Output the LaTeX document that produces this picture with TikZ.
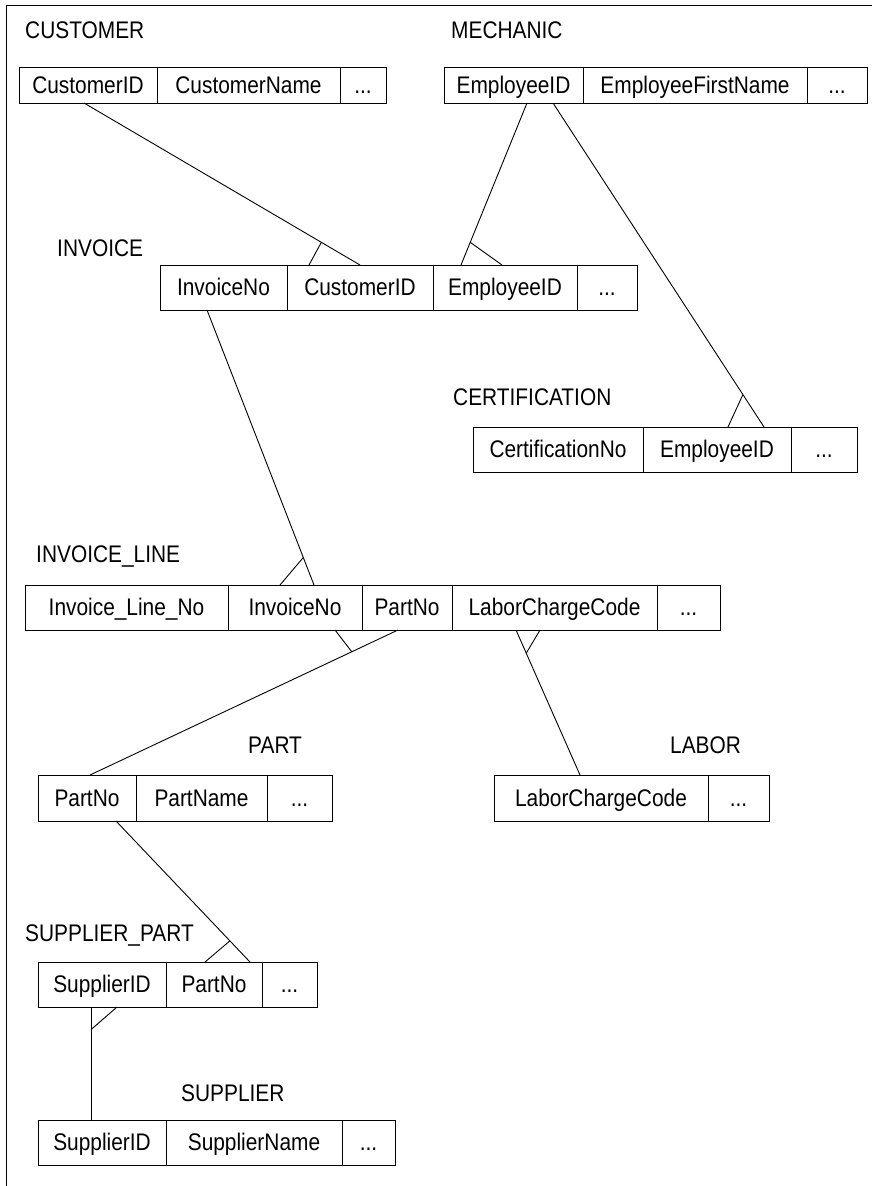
\documentclass[tikz,border=0pt]{standalone}
\usepackage{fontspec}
\setmainfont{Liberation Sans}[FakeStretch=0.87]
\usepackage{tikz}
\usetikzlibrary{positioning,calc}
\newcommand{\erfont}{\fontsize{24}{28}\selectfont}
\newcommand{\more}{.{}.{}.}

\tikzset{
  cell/.style={draw, line width=1pt, inner sep=0pt, outer sep=0pt, minimum height=#1,
    text height=17pt, text depth=1pt},
  cell/.default=45pt,
  tname/.style={anchor=west, inner sep=0pt},
  link/.style={line width=0.9pt}
}

\begin{document}
\begin{tikzpicture}[x=1pt, y=-1pt, font=\erfont]
\useasboundingbox (0,0) rectangle (872,1186);
\draw[line width=1pt] (872,5) -- (6,5) -- (6,1186);

% customer and mechanic
\node[tname] (custlbl) at (25,30) {CUSTOMER};
\node[cell=36pt, minimum width=138pt, anchor=north west] (cid) at (19,67) {CustomerID};
\node[cell=36pt, minimum width=183pt, right=0pt of cid] (cname) {CustomerName};
\node[cell=36pt, minimum width=46pt, right=0pt of cname] (cdots) {\more};

\node[tname] (mechlbl) at (451,30) {MECHANIC};
\node[cell=36pt, minimum width=139pt, anchor=north west] (eid) at (444,67) {EmployeeID};
\node[cell=36pt, minimum width=224pt, right=0pt of eid] (efname) {EmployeeFirstName};
\node[cell=36pt, minimum width=60pt, right=0pt of efname] (edots) {\more};

% invoice
\node[tname] (invlbl) at (57,248) {INVOICE};
\node[cell, minimum width=127pt, anchor=north west] (ino) at (160,265) {InvoiceNo};
\node[cell, minimum width=146pt, right=0pt of ino] (icid) {CustomerID};
\node[cell, minimum width=144pt, right=0pt of icid] (ieid) {EmployeeID};
\node[cell, minimum width=60pt, right=0pt of ieid] (idots) {\more};

% certification
\node[tname] (certlbl) at (453,397) {CERTIFICATION};
\node[cell, minimum width=170pt, anchor=north west] (crno) at (473,427) {CertificationNo};
\node[cell, minimum width=148pt, right=0pt of crno] (ceid) {EmployeeID};
\node[cell, minimum width=66pt, right=0pt of ceid] (crdots) {\more};

% invoice line
\node[tname] (linelbl) at (36,556) {INVOICE\_LINE};
\node[cell, minimum width=203pt, anchor=north west] (lno) at (25,585) {Invoice\_Line\_No};
\node[cell, minimum width=134pt, right=0pt of lno] (lino) {InvoiceNo};
\node[cell, minimum width=90pt, right=0pt of lino] (lpno) {PartNo};
\node[cell, minimum width=205pt, right=0pt of lpno] (llcc) {LaborChargeCode};
\node[cell, minimum width=63pt, right=0pt of llcc] (ldots) {\more};

% part and labor
\node[tname] (partlbl) at (248,745) {PART};
\node[cell=46pt, minimum width=98pt, anchor=north west] (pno) at (38,775) {PartNo};
\node[cell=46pt, minimum width=131pt, right=0pt of pno] (pname) {PartName};
\node[cell=46pt, minimum width=65pt, right=0pt of pname] (pdots) {\more};

\node[tname] (laborlbl) at (670,745) {LABOR};
\node[cell=46pt, minimum width=214pt, anchor=north west] (lbcc) at (494,775) {LaborChargeCode};
\node[cell=46pt, minimum width=61pt, right=0pt of lbcc] (lbdots) {\more};

% supplier part and supplier
\node[tname] (splbl) at (25,935) {SUPPLIER\_PART};
\node[cell, minimum width=128pt, anchor=north west] (spsid) at (38,962) {SupplierID};
\node[cell, minimum width=96pt, right=0pt of spsid] (sppno) {PartNo};
\node[cell, minimum width=55pt, right=0pt of sppno] (spdots) {\more};

\node[tname] (suplbl) at (181,1093) {SUPPLIER};
\node[cell, minimum width=128pt, anchor=north west] (ssid) at (38,1120) {SupplierID};
\node[cell, minimum width=176pt, right=0pt of ssid] (sname) {SupplierName};
\node[cell, minimum width=53pt, right=0pt of sname] (sdots) {\more};

% relationships, crow's foot on the many side
\draw[link] ([xshift=-4pt]cid.south) -- coordinate[pos=0.86] (f1) (icid.north);
\draw[link] (f1) -- ([xshift=-51pt]icid.north);

\draw[link] ([xshift=13.5pt]eid.south) -- coordinate[pos=0.86] (f2) ([xshift=-44pt]ieid.north);
\draw[link] (f2) -- ([xshift=-3pt]ieid.north);

\draw[link] ([xshift=39.5pt]eid.south) -- coordinate[pos=0.9] (f3) ([xshift=47pt]ceid.north);
\draw[link] (f3) -- ([xshift=11pt]ceid.north);

\draw[link] ([xshift=-16.5pt]ino.south) -- coordinate[pos=0.9] (f4) ([xshift=19pt]lino.north);
\draw[link] (f4) -- ([xshift=-15pt]lino.north);

\draw[link] ([xshift=3pt]pno.north) -- coordinate[pos=0.85] (f5) ([xshift=-9pt]lpno.south);
\draw[link] (f5) -- ([xshift=40pt]lino.south);

\draw[link] ([xshift=-21pt]lbcc.north) -- coordinate[pos=0.84] (f6) ([xshift=-38.5pt]llcc.south);
\draw[link] (f6) -- ([xshift=-14.5pt]llcc.south);

\draw[link] ([xshift=29pt]pno.south) -- coordinate[pos=0.85] (f7) ([xshift=36pt]sppno.north);
\draw[link] (f7) -- ([xshift=-9pt]sppno.north);

\draw[link] ([xshift=-11pt]ssid.north) -- coordinate[pos=0.8] (f8) ([xshift=-11pt]spsid.south);
\draw[link] (f8) -- ([xshift=15pt]spsid.south);
\end{tikzpicture}
\end{document}
